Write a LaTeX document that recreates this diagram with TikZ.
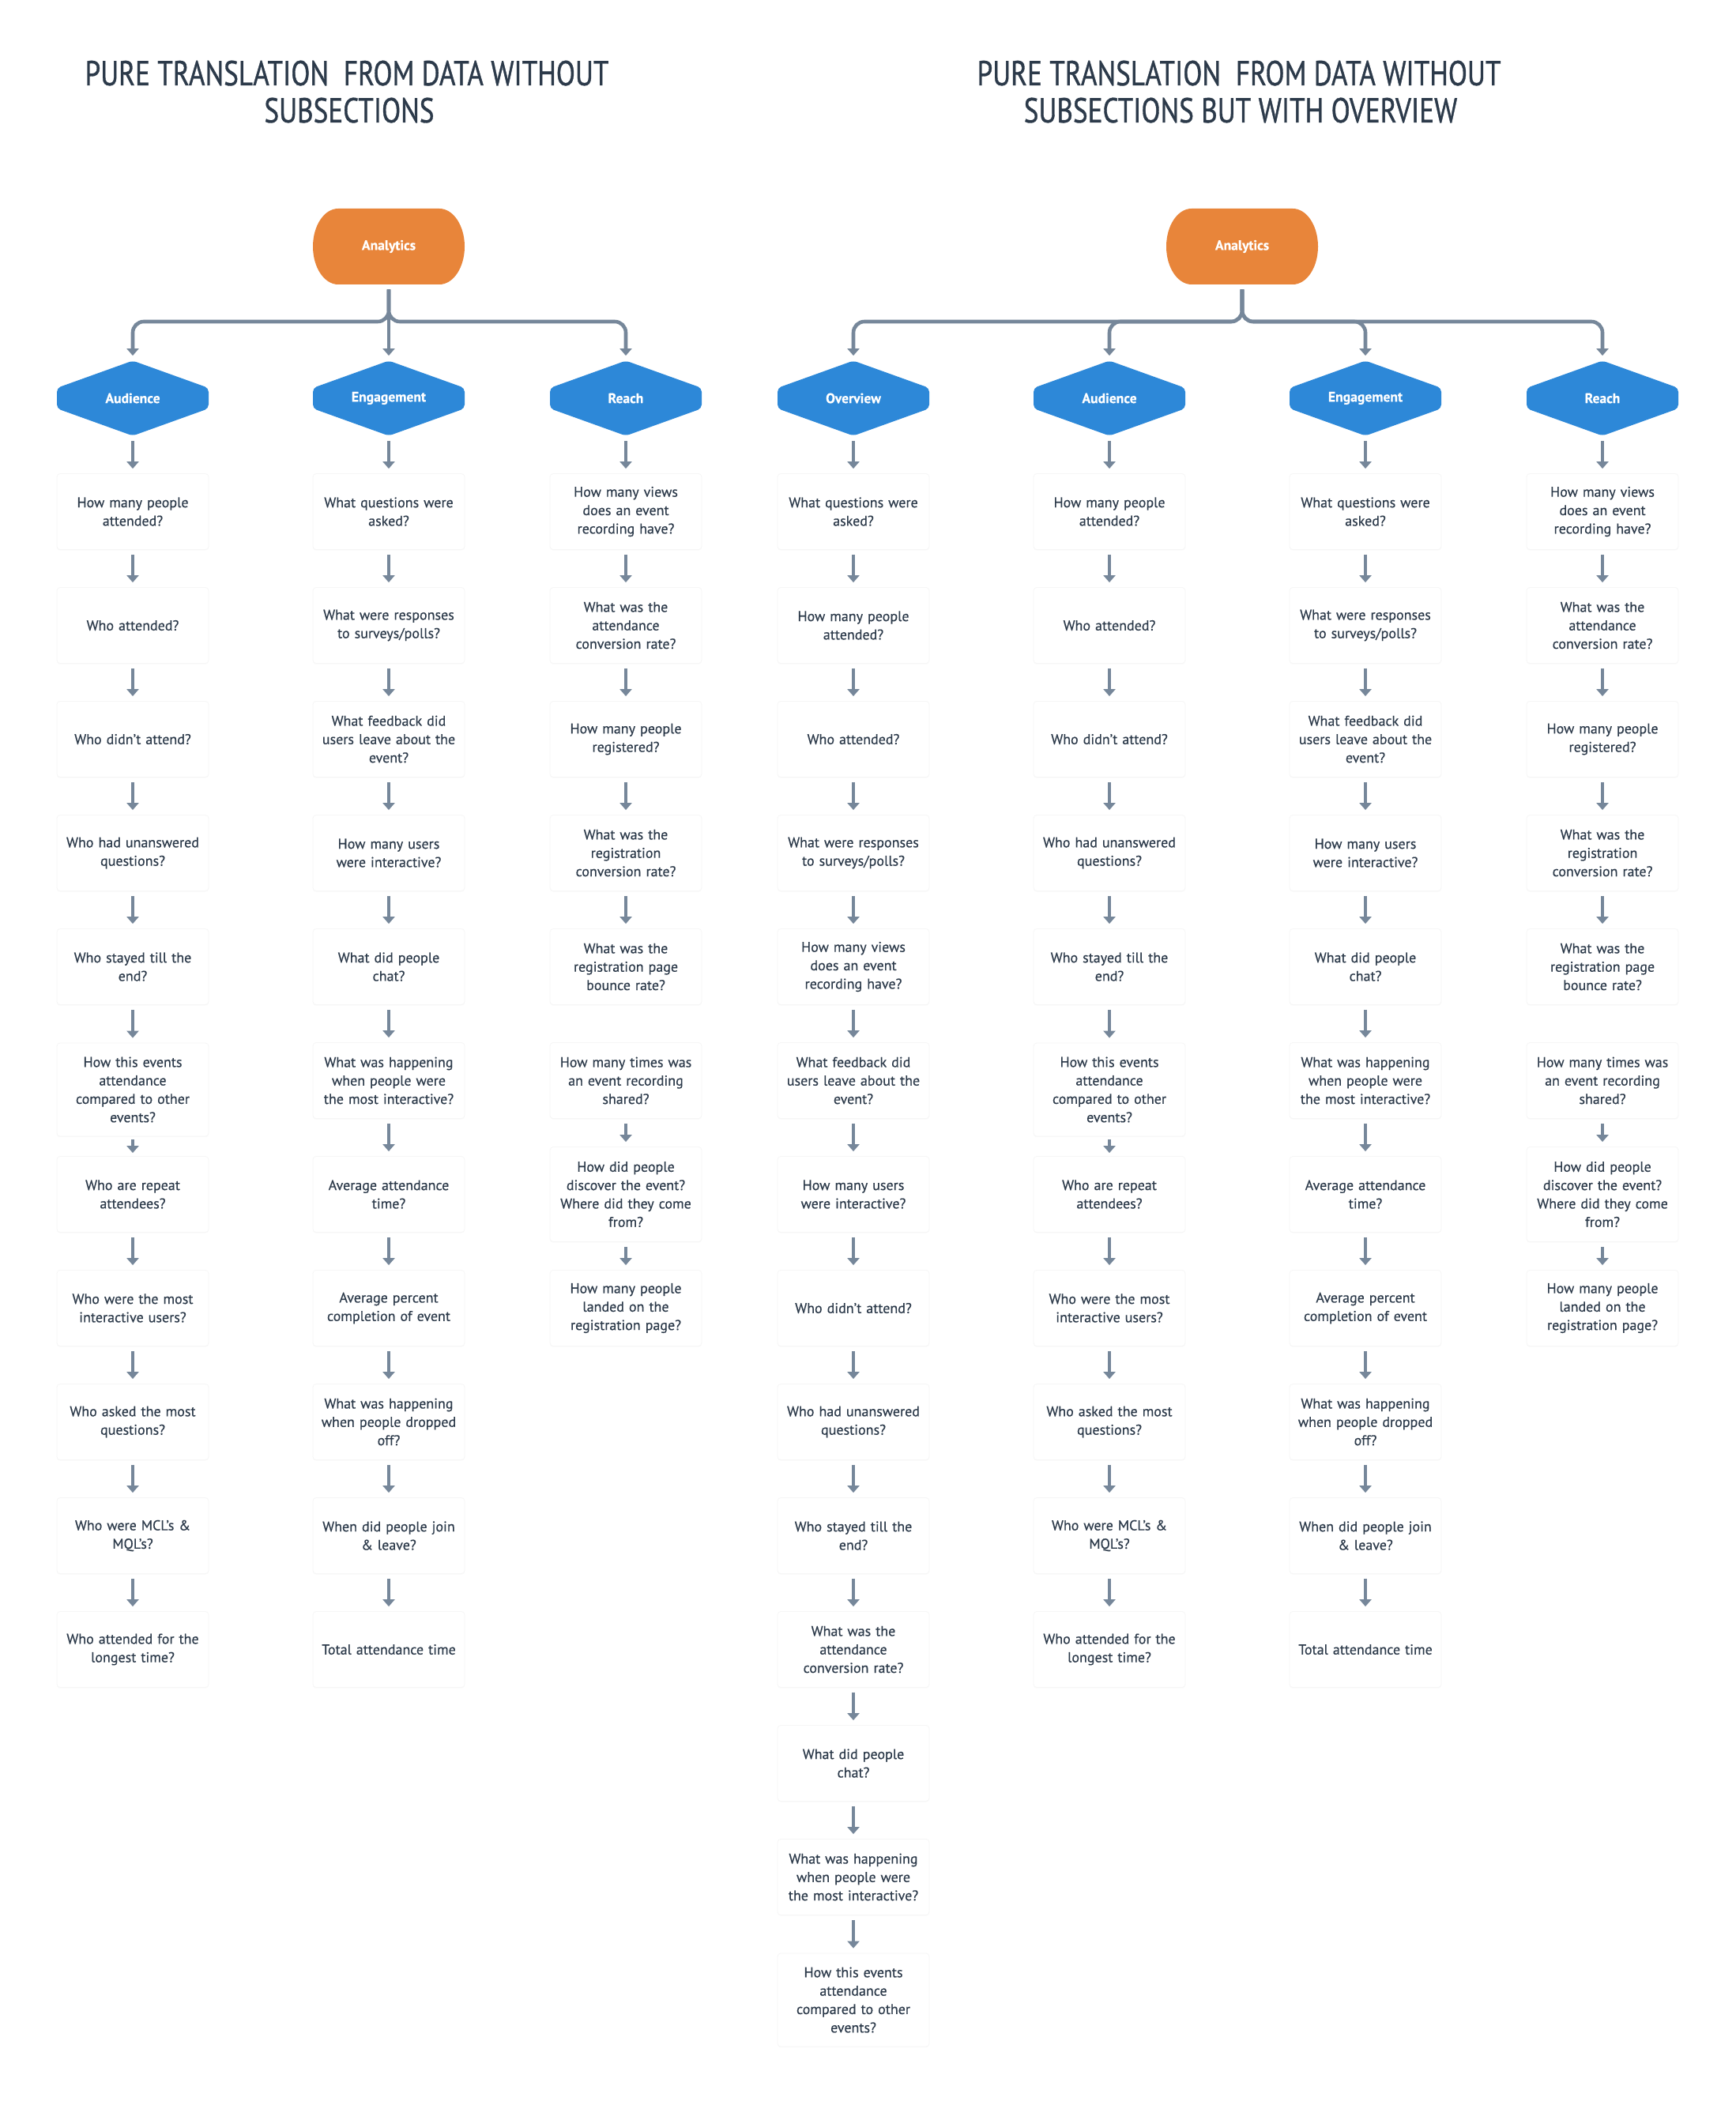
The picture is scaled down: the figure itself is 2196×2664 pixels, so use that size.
\documentclass[tikz,border=0pt]{standalone}
\usepackage{fontspec}
\setmainfont{PT Sans}[FakeBold=0.4]
\newfontfamily\titlefont{PT Sans}[FakeStretch=0.8,FakeBold=0.8]
\usetikzlibrary{arrows.meta,shadows}
\definecolor{txt}{HTML}{2C3A4A}
\definecolor{arrc}{HTML}{76879A}
\definecolor{hexblue}{HTML}{2D88D8}
\definecolor{orangec}{HTML}{E8853A}
\tikzset{
 qbox/.style={draw=black!3.5, line width=0.4pt, fill=white, rounded corners=2pt, minimum width=96pt, minimum height=48pt, text width=94pt, align=center, inner sep=0pt, text=txt, font=\fontsize{9}{11.65}\selectfont, drop shadow={shadow xshift=0pt, shadow yshift=-0.6pt, opacity=0.04}},
 arr/.style={draw=arrc, line width=2.3pt, -{Triangle[width=7.5pt,length=4.5pt]}, shorten >=3pt, shorten <=3pt},
 shortarr/.style={arr, shorten >=2pt, shorten <=2pt},
 hexlabel/.style={minimum width=96pt, minimum height=47.5pt, inner sep=0pt, text=white, font=\bfseries\fontsize{8.8}{10}\selectfont},
 anlabel/.style={minimum width=96pt, minimum height=48pt, inner sep=0pt, text=white, font=\bfseries\fontsize{8.8}{10}\selectfont},
 titletext/.style={text=txt, font=\titlefont\fontsize{22}{26}\selectfont, anchor=base, inner sep=0pt}
}
\newcommand\hexshape[2]{\fill[hexblue, rounded corners=2.5pt] (#1,#2-47.5) -- (#1+96,#2-13) -- (#1+96,#2+13) -- (#1,#2+47.5) -- (#1-96,#2+13) -- (#1-96,#2-13) -- cycle;}
\newcommand\capsule[2]{\fill[orangec] (#1-64,#2-48) -- (#1+64,#2-48) arc[start angle=90,end angle=-90,x radius=16pt,y radius=24pt] -- (#1-64,#2+48) arc[start angle=270,end angle=90,x radius=16pt,y radius=24pt] -- cycle;}
\newcommand\qb[4]{\node[qbox] (#1) at (#2,{647.5+144*(#3-1)}) {#4};}
\newcommand\qbtop[4]{\node[qbox,minimum height=59pt] (#1) at (#2,{659+144*(#3-1)}) {#4};}
\newcommand\qbmid[4]{\node[qbox,minimum height=60pt] (#1) at (#2,{647.5+144*(#3-1)}) {#4};}
\newcommand\qarrow[2]{\draw[arr] (#1.south) -- (#2.north);}
\newcommand\qshort[2]{\draw[shortarr] (#1.south) -- (#2.north);}
\begin{document}
\begin{tikzpicture}[x=0.5pt,y=-0.5pt]
\fill[white] (0,0) rectangle (2196,2664);
\useasboundingbox (0,0) rectangle (2196,2664);
% titles
\node[titletext] (t1a) at (439,108) {PURE TRANSLATION\ \ FROM DATA WITHOUT};
\node[titletext] (t1b) at (442,155) {SUBSECTIONS};
\node[titletext] (t2a) at (1568,108) {PURE TRANSLATION\ \ FROM DATA WITHOUT};
\node[titletext] (t2b) at (1570,155) {SUBSECTIONS BUT WITH OVERVIEW};
% ---------- left diagram ----------
\capsule{492}{312}
\node[anlabel] (lan) at (492,312) {Analytics};
\hexshape{168}{504} \node[hexlabel] (lah) at (168,504) {Audience};
\hexshape{492}{504} \node[hexlabel] (leh) at (492,504) {Engagement};
\hexshape{792}{504} \node[hexlabel] (lrh) at (792,504) {Reach};
\coordinate (lbus) at (0,407);
\draw[arr,rounded corners=7pt] (lan.south) -- (lan.south |- lbus) -- (lah.north |- lbus) -- (lah.north);
\draw[arr] (lan.south) -- (leh.north);
\draw[arr,rounded corners=7pt] (lan.south) -- (lan.south |- lbus) -- (lrh.north |- lbus) -- (lrh.north);
% Audience
\qb{la1}{168}{1}{How many people\\attended?}
\qb{la2}{168}{2}{Who attended?}
\qb{la3}{168}{3}{Who didn’t attend?}
\qb{la4}{168}{4}{Who had unanswered\\questions?}
\qb{la5}{168}{5}{Who stayed till the\\end?}
\qbtop{la6}{168}{6}{How this events\\attendance\\compared to other\\events?}
\qb{la7}{168}{7}{Who are repeat\\attendees?}
\qb{la8}{168}{8}{Who were the most\\interactive users?}
\qb{la9}{168}{9}{Who asked the most\\questions?}
\qb{la10}{168}{10}{Who were MCL’s \&\\MQL’s?}
\qb{la11}{168}{11}{Who attended for the\\longest time?}
\qarrow{lah}{la1}
\foreach \i [count=\j from 2] in {1,...,5} {\qarrow{la\i}{la\j}}
\qshort{la6}{la7}
\foreach \i [count=\j from 8] in {7,...,10} {\qarrow{la\i}{la\j}}
% Engagement
\qb{le1}{492}{1}{What questions were\\asked?}
\qb{le2}{492}{2}{What were responses\\to surveys/polls?}
\qb{le3}{492}{3}{What feedback did\\users leave about the\\event?}
\qb{le4}{492}{4}{How many users\\were interactive?}
\qb{le5}{492}{5}{What did people\\chat?}
\qb{le6}{492}{6}{What was happening\\when people were\\the most interactive?}
\qb{le7}{492}{7}{Average attendance\\time?}
\qb{le8}{492}{8}{Average percent\\completion of event}
\qb{le9}{492}{9}{What was happening\\when people dropped\\off?}
\qb{le10}{492}{10}{When did people join\\\& leave?}
\qb{le11}{492}{11}{Total attendance time}
\qarrow{leh}{le1}
\foreach \i [count=\j from 2] in {1,...,10} {\qarrow{le\i}{le\j}}
% Reach
\qb{lr1}{792}{1}{How many views\\does an event\\recording have?}
\qb{lr2}{792}{2}{What was the\\attendance\\conversion rate?}
\qb{lr3}{792}{3}{How many people\\registered?}
\qb{lr4}{792}{4}{What was the\\registration\\conversion rate?}
\qb{lr5}{792}{5}{What was the\\registration page\\bounce rate?}
\qb{lr6}{792}{6}{How many times was\\an event recording\\shared?}
\qbmid{lr7}{792}{7}{How did people\\discover the event?\\Where did they come\\from?}
\qb{lr8}{792}{8}{How many people\\landed on the\\registration page?}
\qarrow{lrh}{lr1}
\foreach \i [count=\j from 2] in {1,...,4} {\qarrow{lr\i}{lr\j}}
\qarrow{lr6}{lr7}
\qarrow{lr7}{lr8}
% ---------- right diagram ----------
\capsule{1572}{312}
\node[anlabel] (ran) at (1572,312) {Analytics};
\hexshape{1080}{504} \node[hexlabel] (roh) at (1080,504) {Overview};
\hexshape{1404}{504} \node[hexlabel] (rah) at (1404,504) {Audience};
\hexshape{1728}{504} \node[hexlabel] (reh) at (1728,504) {Engagement};
\hexshape{2028}{504} \node[hexlabel] (rrh) at (2028,504) {Reach};
\coordinate (rbus) at (0,407);
\foreach \h in {roh,rah,reh,rrh}
  {\draw[arr,rounded corners=7pt] (ran.south) -- (ran.south |- rbus) -- (\h.north |- rbus) -- (\h.north);}
% Overview
\qb{ro1}{1080}{1}{What questions were\\asked?}
\qb{ro2}{1080}{2}{How many people\\attended?}
\qb{ro3}{1080}{3}{Who attended?}
\qb{ro4}{1080}{4}{What were responses\\to surveys/polls?}
\qb{ro5}{1080}{5}{How many views\\does an event\\recording have?}
\qb{ro6}{1080}{6}{What feedback did\\users leave about the\\event?}
\qb{ro7}{1080}{7}{How many users\\were interactive?}
\qb{ro8}{1080}{8}{Who didn’t attend?}
\qb{ro9}{1080}{9}{Who had unanswered\\questions?}
\qb{ro10}{1080}{10}{Who stayed till the\\end?}
\qb{ro11}{1080}{11}{What was the\\attendance\\conversion rate?}
\qb{ro12}{1080}{12}{What did people\\chat?}
\qb{ro13}{1080}{13}{What was happening\\when people were\\the most interactive?}
\qbtop{ro14}{1080}{14}{How this events\\attendance\\compared to other\\events?}
\qarrow{roh}{ro1}
\foreach \i [count=\j from 2] in {1,...,13} {\qarrow{ro\i}{ro\j}}
% Audience
\qb{ra1}{1404}{1}{How many people\\attended?}
\qb{ra2}{1404}{2}{Who attended?}
\qb{ra3}{1404}{3}{Who didn’t attend?}
\qb{ra4}{1404}{4}{Who had unanswered\\questions?}
\qb{ra5}{1404}{5}{Who stayed till the\\end?}
\qbtop{ra6}{1404}{6}{How this events\\attendance\\compared to other\\events?}
\qb{ra7}{1404}{7}{Who are repeat\\attendees?}
\qb{ra8}{1404}{8}{Who were the most\\interactive users?}
\qb{ra9}{1404}{9}{Who asked the most\\questions?}
\qb{ra10}{1404}{10}{Who were MCL’s \&\\MQL’s?}
\qb{ra11}{1404}{11}{Who attended for the\\longest time?}
\qarrow{rah}{ra1}
\foreach \i [count=\j from 2] in {1,...,5} {\qarrow{ra\i}{ra\j}}
\qshort{ra6}{ra7}
\foreach \i [count=\j from 8] in {7,...,10} {\qarrow{ra\i}{ra\j}}
% Engagement
\qb{re1}{1728}{1}{What questions were\\asked?}
\qb{re2}{1728}{2}{What were responses\\to surveys/polls?}
\qb{re3}{1728}{3}{What feedback did\\users leave about the\\event?}
\qb{re4}{1728}{4}{How many users\\were interactive?}
\qb{re5}{1728}{5}{What did people\\chat?}
\qb{re6}{1728}{6}{What was happening\\when people were\\the most interactive?}
\qb{re7}{1728}{7}{Average attendance\\time?}
\qb{re8}{1728}{8}{Average percent\\completion of event}
\qb{re9}{1728}{9}{What was happening\\when people dropped\\off?}
\qb{re10}{1728}{10}{When did people join\\\& leave?}
\qb{re11}{1728}{11}{Total attendance time}
\qarrow{reh}{re1}
\foreach \i [count=\j from 2] in {1,...,10} {\qarrow{re\i}{re\j}}
% Reach
\qb{rr1}{2028}{1}{How many views\\does an event\\recording have?}
\qb{rr2}{2028}{2}{What was the\\attendance\\conversion rate?}
\qb{rr3}{2028}{3}{How many people\\registered?}
\qb{rr4}{2028}{4}{What was the\\registration\\conversion rate?}
\qb{rr5}{2028}{5}{What was the\\registration page\\bounce rate?}
\qb{rr6}{2028}{6}{How many times was\\an event recording\\shared?}
\qbmid{rr7}{2028}{7}{How did people\\discover the event?\\Where did they come\\from?}
\qb{rr8}{2028}{8}{How many people\\landed on the\\registration page?}
\qarrow{rrh}{rr1}
\foreach \i [count=\j from 2] in {1,...,4} {\qarrow{rr\i}{rr\j}}
\qarrow{rr6}{rr7}
\qarrow{rr7}{rr8}
\end{tikzpicture}
\end{document}
